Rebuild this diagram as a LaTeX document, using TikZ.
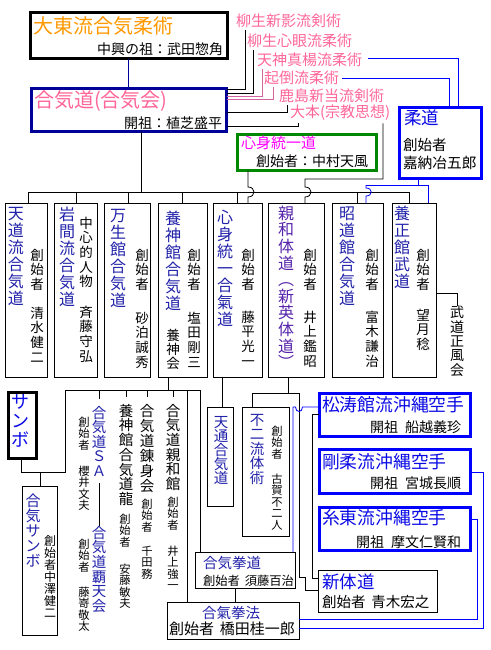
\documentclass[tikz,border=0pt]{standalone}
\usepackage{fontspec}
\setmainfont{Noto Sans CJK JP}
\definecolor{orangeT}{RGB}{255,153,0}
\definecolor{pinkT}{RGB}{255,102,153}
\definecolor{pinkL}{RGB}{210,100,160}
\definecolor{navy}{RGB}{0,0,153}
\definecolor{tblue}{RGB}{34,34,170}
\definecolor{tpurple}{RGB}{85,34,170}
\definecolor{kblue}{RGB}{10,10,230}
\definecolor{lblue}{RGB}{0,0,255}
\definecolor{gboxc}{RGB}{0,136,0}
\definecolor{mag}{RGB}{255,0,255}
\ExplSyntaxOn
\NewDocumentCommand\vtxt{m}
 {
  \seq_set_split:Nnn \l_tmpa_seq { } { #1 }
  \seq_use:Nn \l_tmpa_seq { \\ }
 }
\ExplSyntaxOff
\tikzset{
  thinbox/.style={draw=black, line width=0.9pt},
  thickbox/.style={draw=black, line width=2.6pt},
  vt/.style={anchor=north, align=center, font=\fontsize{16}{17}\selectfont, text=tblue},
  vn/.style={anchor=north, align=center, font=\fontsize{13.5}{14.6}\selectfont},
  vm/.style={anchor=north, align=center, font=\fontsize{14.5}{14.7}\selectfont},
  vsm/.style={anchor=north, align=center, font=\fontsize{11.3}{11.4}\selectfont},
  gap/.style={outer ysep=7pt},
  pinklab/.style={anchor=west, text=pinkT, font=\fontsize{15}{15}\selectfont, outer ysep=2.5pt},
  bl/.style={draw=lblue, line width=0.8pt},
  kt/.style={anchor=west, text=kblue, font=\fontsize{17.8}{18}\selectfont},
  ks/.style={anchor=east, font=\fontsize{14}{14}\selectfont},
}
\begin{document}
\begin{tikzpicture}[x=1pt,y=-1pt, every node/.style={inner sep=0pt,outer sep=0pt}, line width=0.8pt]
\useasboundingbox (0,0) rectangle (490,650);
\fill[white] (0,0) rectangle (490,650);

% ---------- top boxes ----------
\node[thickbox, minimum width=197, minimum height=46.4] (daito) at (129,35.5) {};
\node[anchor=west, text=orangeT, font=\fontsize{20}{20}\selectfont] (daitoT) at (33,26) {大東流合気柔術};
\node[anchor=east, font=\fontsize{14}{14}\selectfont] (daitoS) at (223,49) {中興の祖：武田惣角};

\node[thickbox, draw=navy, minimum width=195.4, minimum height=43] (aikikai) at (129,110) {};
\node[anchor=west, text=pinkT, font=\fontsize{20}{20}\selectfont] (aikikaiT) at (34,101.5) {合気道(合気会)};
\node[anchor=east, font=\fontsize{14}{14}\selectfont] (aikikaiS) at (222,123.5) {開祖：植芝盛平};
\draw[navy] (daito.south -| 128,0) -- (aikikai.north -| 128,0);

% pink list
\node[pinklab] (yagyu1) at (236,21) {柳生新影流剣術};
\node[pinklab] (yagyu2) at (247,41) {柳生心眼流柔術};
\node[pinklab] (tenjin) at (257,60) {天神真楊流柔術};
\node[pinklab] (kito) at (264,78) {起倒流柔術};
\node[pinklab] (kashima) at (279,95.5) {鹿島新当流剣術};
\node[pinklab] (omoto) at (290,113) {大本(宗教思想)};

\draw (aikikai.east |- 0,89) -| (yagyu1.south -| 245,0);
\draw (aikikai.east |- 0,93) -| (yagyu2.south -| 253,0);
\draw[pinkL] (aikikai.east |- 0,96) -| (tenjin.south -| 262,0);
\draw[pinkL] (aikikai.east |- 0,99) -| (kito.south -| 273,0);
\draw (aikikai.east |- 0,112) -| (kashima.south -| 287,0);
\draw (aikikai.east |- 0,126) -| (omoto.south -| 298,0);

% judo
\node[thickbox, draw=lblue, minimum width=82.4, minimum height=71.4] (judo) at (440.5,143) {};
\node[anchor=west, text=kblue, font=\fontsize{17.5}{17.5}\selectfont] (judoT) at (404,118) {柔道};
\node[anchor=west, font=\fontsize{14.5}{14.5}\selectfont] (judoA) at (403,145) {創始者};
\node[anchor=west, font=\fontsize{14.7}{14.7}\selectfont] (judoN) at (403,163) {嘉納冶五郎};
\draw[bl] (tenjin.east |- 0,58) ++(6,0) -| (judo.north -| 458,0);
\draw[bl] (kito.east |- 0,78) ++(3,0) -| (judo.north -| 449,0);

% shinshin toitsu-do
\node[thickbox, draw=gboxc, minimum width=139.4, minimum height=36.4] (sst) at (307,152.5) {};
\node[anchor=west, text=mag, font=\fontsize{15}{15}\selectfont] (sstT) at (241,143) {心身統一道};
\node[anchor=west, font=\fontsize{14}{14}\selectfont] (sstS) at (256,161) {創始者：中村天風};

% ---------- row of boxes ----------
\node[thinbox, minimum width=42, minimum height=174] (tendo) at (26,290) {};
\node[thinbox, minimum width=43, minimum height=174] (iwama) at (75.5,290) {};
\node[thinbox, minimum width=46, minimum height=174] (mansei) at (127,290) {};
\node[thinbox, minimum width=49, minimum height=174] (yoshin) at (182.5,290) {};
\node[thinbox, minimum width=49, minimum height=174] (shinshin) at (237.5,290) {};
\node[thinbox, minimum width=56, minimum height=174] (shinwa) at (296,290) {};
\node[thinbox, minimum width=51, minimum height=174] (shodo) at (357.5,290) {};
\node[thinbox, minimum width=44, minimum height=174] (yoseikan) at (414,290) {};

\node[vt] (tendoT) at (16,207) {\vtxt{天道流合気道}};
\node[vn] (tendoA) at (37,249) {\vtxt{創始者}};
\node[vn] (tendoN) at (37,307) {\vtxt{清水健二}};

\node[vt] (iwamaT) at (67,207) {\vtxt{岩間流合気道}};
\node[vn] (iwamaA) at (86,217) {\vtxt{中心的人物}};
\node[vn] (iwamaN) at (86,306) {\vtxt{斉藤守弘}};

\node[vt] (manseiT) at (118,209) {\vtxt{万生館合気道}};
\node[vn] (manseiA) at (142,249) {\vtxt{創始者}};
\node[vn] (manseiN) at (142,312) {\vtxt{砂泊誠秀}};

\node[vt] (yoshinT) at (173,211) {\vtxt{養神館合気道}};
\node[vn, font=\fontsize{13.5}{14}\selectfont] (yoshinK) at (173,329) {\vtxt{養神会}};
\node[vn] (yoshinA) at (194,249) {\vtxt{創始者}};
\node[vn] (yoshinN) at (194,312) {\vtxt{塩田剛三}};

\node[vt] (shinshinT) at (225,210) {\vtxt{心身統一合氣道}};
\node[vn] (shinshinA) at (248,249) {\vtxt{創始者}};
\node[vn] (shinshinN) at (248,311) {\vtxt{藤平光一}};

\node[vt, text=tpurple, font=\fontsize{16}{16.6}\selectfont] (shinwaT) at (286,206) {\vtxt{親和体道︵新英体道︶}};
\node[vn] (shinwaA) at (310,249) {\vtxt{創始者}};
\node[vn] (shinwaN) at (310,311) {\vtxt{井上鑑昭}};

\node[vt] (shodoT) at (347,207) {\vtxt{昭道館合気道}};
\node[vn] (shodoA) at (372,249) {\vtxt{創始者}};
\node[vn] (shodoN) at (372,311) {\vtxt{富木謙治}};

\node[vt] (yoseikanT) at (402,206) {\vtxt{養正館武道}};
\node[vn] (yoseikanA) at (423,249) {\vtxt{創始者}};
\node[vn] (yoseikanN) at (423,309) {\vtxt{望月稔}};

\node[vn, font=\fontsize{14}{14.4}\selectfont] (budo) at (457,306) {\vtxt{武道正風会}};
\draw (yoseikan.east |- 0,293) -| (budo.north -| 457,0);

% bus from aikikai
\draw (aikikai.south -| 141,0) -- (141,192);
\draw (28,192) -- (409,192);
\foreach \x/\n in {28/tendo,76/iwama,128/mansei,182/yoshin,237/shinshin,357/shodo,409/yoseikan}
  \draw (\x,192) -- (\n.north -| \x,0);
% hops over the bus
\draw (sst.south -| 248,0) -- (248,187) .. controls (256,187) and (256,197) .. (248,197) -- (shinshin.north -| 248,0);
\draw (omoto.south -| 383,0) -- (383,179) -- (305,179) -- (305,187) .. controls (313,187) and (313,197) .. (305,197) -- (shinwa.north -| 305,0);
\draw[bl] (judo.south -| 418,0) -- (418,185);
\draw[bl] (366,185) -- (428,185) -- (yoseikan.north -| 428,0);
\draw[bl] (366,185) -- (366,188) .. controls (373,188) and (373,196) .. (366,196) -- (shodo.north -| 366,0);

% ---------- lower left ----------
\node[thickbox, minimum width=28.4, minimum height=66.4] (sambo) at (22.5,425.5) {};
\node[vt, text=kblue, font=\fontsize{18}{19}\selectfont] (samboT) at (21,394) {\vtxt{サンボ}};
\node[thinbox, minimum width=35, minimum height=149] (aikisambo) at (39.5,560.5) {};
\node[vt, font=\fontsize{15}{15}\selectfont] (aikisamboT) at (33,494) {\vtxt{合気サンボ}};
\node[vsm, font=\fontsize{12}{11.9}\selectfont] (aikisamboA) at (50,536) {\vtxt{創始者中澤健二}};

\node[vt, gap, font=\fontsize{14.5}{14.5}\selectfont] (sa) at (99,399) {\vtxt{合気道ＳＡ}};
\node[vt, font=\fontsize{14.5}{14.7}\selectfont] (haten) at (99,526) {\vtxt{合気道覇天会}};
\node[vsm] (saA) at (84,417) {\vtxt{創始者}};
\node[vsm] (saN) at (84,466) {\vtxt{櫻井文夫}};
\node[vsm] (hatenA) at (84,539) {\vtxt{創始者}};
\node[vsm] (hatenN) at (84,587) {\vtxt{藤嵜敬太}};
\draw (sa.south) -- (haten.north);

\node[vm, gap] (ryu) at (126,397) {\vtxt{養神館合気道龍}};
\node[vsm] (ryuA) at (125,514) {\vtxt{創始者}};
\node[vsm] (ryuN) at (125,564) {\vtxt{安藤敏夫}};
\node[vm, gap, font=\fontsize{14.5}{15}\selectfont] (renshin) at (147,397) {\vtxt{合気道錬身会}};
\node[vsm] (renshinA) at (147,499) {\vtxt{創始者}};
\node[vsm] (renshinN) at (147,546) {\vtxt{千田務}};
\node[vm, gap] (shinwakan) at (173,397) {\vtxt{合気道親和館}};
\node[vsm] (shinwakanA) at (173,497) {\vtxt{創始者}};
\node[vsm] (shinwakanN) at (173,546) {\vtxt{井上強一}};

\draw (yoshin.south -| 168,0) -- (168,390);
\draw (65,390) -- (200,390);
\draw (65,390) -- (65,472) -- (21,472) -- (sambo.south -| 21,0);
\draw (40,472) -- (aikisambo.north -| 40,0);
\draw (99,390) -- (sa.north);
\draw (126,390) -- (ryu.north);
\draw (147,390) -- (renshin.north);
\draw (173,390) -- (shinwakan.north);

% ---------- lower middle ----------
\node[thinbox, minimum width=26, minimum height=99] (tentsu) at (220,456.5) {};
\node[vm, text=tblue, font=\fontsize{14.5}{14.2}\selectfont] (tentsuT) at (221,416) {\vtxt{天通合気道}};
\draw (shinshin.south -| 222,0) -- (tentsu.north -| 222,0);

\node[thinbox, minimum width=47, minimum height=129] (fuji) at (265.5,471.5) {};
\node[vm, text=tblue, font=\fontsize{14.5}{14.5}\selectfont] (fujiT) at (257,414) {\vtxt{不二流体術}};
\node[vsm] (fujiA) at (277,426) {\vtxt{創始者}};
\node[vsm] (fujiN) at (277,474) {\vtxt{古賀不二人}};
\draw (shinwa.south -| 288,0) -- (288,393) -- (252,393) -- (fuji.north -| 252,0);

\node[thinbox, minimum width=100, minimum height=36] (kendo) at (245,570) {};
\node[anchor=west, text=tblue, font=\fontsize{14.5}{14.5}\selectfont] (kendoT) at (203,563) {合気拳道};
\node[anchor=west, font=\fontsize{12.3}{12.3}\selectfont] (kendoS) at (203,581) {創始者\hspace{0.4em}須藤百治};
\node[thinbox, minimum width=132, minimum height=37] (kenpo) at (233,620.5) {};
\node[text=tblue, font=\fontsize{14.5}{14.5}\selectfont] (kenpoT) at (231,613) {合氣拳法};
\node[anchor=west, font=\fontsize{15}{15}\selectfont] (kenpoS) at (169,629) {創始者\hspace{0.4em}橋田桂一郎};
\draw (187,390) -- (kenpo.north -| 187,0);
\draw (200,390) -- (kendo.north -| 200,0);
\draw (kendo.south -| 235,0) -- (kenpo.north -| 235,0);

% ---------- karate ----------
\node[thickbox, draw=lblue, minimum width=151.4, minimum height=43.4] (shoto) at (395,415) {};
\node[kt] (shotoT) at (322,405) {松涛館流沖縄空手};
\node[ks] (shotoS) at (461,427) {開祖\hspace{0.5em}船越義珍};
\node[thickbox, draw=lblue, minimum width=151.4, minimum height=44.4] (goju) at (395,471.5) {};
\node[kt] (gojuT) at (322,462) {剛柔流沖縄空手};
\node[ks] (gojuS) at (461,483) {開祖\hspace{0.5em}宮城長順};
\node[thickbox, draw=lblue, minimum width=151.4, minimum height=43.4] (shito) at (395,529) {};
\node[kt] (shitoT) at (322,518) {糸東流沖縄空手};
\node[ks] (shitoS) at (461,542) {開祖\hspace{0.5em}摩文仁賢和};

\node[thinbox, minimum width=119, minimum height=42] (shintaido) at (377.5,591) {};
\node[anchor=west, text=kblue, font=\fontsize{17.5}{17.5}\selectfont] (shintaidoT) at (322,582) {新体道};
\node[anchor=west, font=\fontsize{14.5}{14.5}\selectfont] (shintaidoS) at (322,602) {創始者\hspace{0.4em}青木宏之};

\draw (288,393) -- (299,393) -- (299,577) -- (305,577) -- (305,590) -- (shintaido.west |- 0,590);
\draw (shoto.west |- 0,414) -- (312,414) -- (312,578) -- (shintaido.west |- 0,578);
\draw[bl] (kendo.north -| 293,0) -- (293,407) -- (295.5,407) .. controls (295.5,413) and (302.5,413) .. (302.5,407) -- (shoto.west |- 0,407);
\draw[bl] (kenpo.east |- 0,619) -- (477,619) -- (477,519) -- (shito.east |- 0,519);
\draw[bl] (kenpo.east |- 0,628) -- (483,628) -- (483,472) -- (goju.east |- 0,472);
\end{tikzpicture}
\end{document}
